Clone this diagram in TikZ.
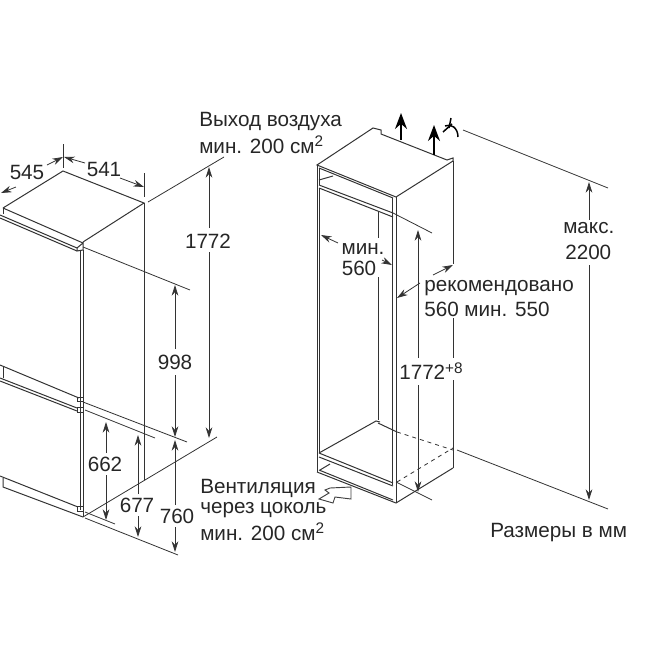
\documentclass[tikz,border=0pt]{standalone}
\usepackage{fontspec}
\setmainfont{Liberation Sans}
\usepackage{tikz}
\usetikzlibrary{arrows.meta}

\newcommand{\upidx}[1]{\raisebox{0.6ex}{\fontsize{11.5}{11.5}\selectfont #1}}

\tikzset{
  outline/.style={draw=black!80,line width=0.75pt},
  thinline/.style={draw=black!80,line width=0.6pt},
  dimtip/.style={thinline,-{Stealth[length=8pt,width=5pt]}},
  lbl/.style={inner sep=0pt,font=\fontsize{15.5}{15.5}\selectfont,text=black!85},
  bigup/.style={draw=black,line width=1.3pt,-{Stealth[length=12pt,width=9pt]}}
}

\begin{document}
\begin{tikzpicture}[x=0.75pt,y=0.75pt,yscale=-1,xscale=1]
\useasboundingbox (0,0) rectangle (650,650);

%Left fridge: top panel
\draw[outline] (3,208) -- (63,171) -- (144,203) -- (83,242);
\draw[outline] (3,208) -- (3,214) ;
\draw[outline] (3,208) -- (83,243) ;
\draw[outline] (0,215) -- (77,248) ;
\draw[outline] (0,218) -- (77,251) ;
\draw[outline] (77,248) -- (83,243) -- (83,250) -- (77,251) -- cycle ;
%Left fridge: door gap
\draw[outline] (80,250) -- (80,510) ;
\draw[outline] (83,250) -- (83,517) ;
%Left fridge: middle
\draw[outline] (0,365) -- (79,398) ;
\draw[outline] (3,367) -- (3,378) ;
\draw[outline] (0,378) -- (77,408) ;
\draw[outline] (0,381) -- (77,411) ;
\draw[outline] (77,397) rectangle (83,401) ;
\draw[outline] (77,407) rectangle (83,412) ;
%Left fridge: bottom
\draw[outline] (0,476) -- (78,507) ;
\draw[outline] (3,478) -- (3,487) -- (83,517) ;
\draw[outline] (77,506) rectangle (83,511) ;

%Left fridge: extension lines
\draw[thinline] (144,173) -- (144,197) ;
\draw[thinline] (144,203) -- (144,480) ;
\draw[thinline] (63,144) -- (63,168) ;
\draw[thinline] (148,202) -- (224,157) ;
\draw[thinline] (83,247) -- (190,290) ;
\draw[thinline] (83,402) -- (187,442) ;
\draw[thinline] (85,410) -- (155,438) ;
\draw[thinline] (83,517) -- (217,437) ;
\draw[thinline] (85,512) -- (115,524) ;
\draw[thinline] (85,518) -- (178,555) ;

%Left fridge: dimensions
\draw[dimtip] (47,165) -- (63,157) ;
\draw[dimtip] (16,187) -- (1,193) ;
\draw[dimtip] (85,163) -- (64,157) ;
\draw[dimtip] (120,178) -- (144,187) ;
\draw[dimtip] (209,228) -- (209,167) ;
\draw[dimtip] (209,252) -- (209,438) ;
\draw[dimtip] (175,349) -- (175,285) ;
\draw[dimtip] (175,375) -- (175,437) ;
\draw[dimtip] (175,505) -- (175,440) ;
\draw[dimtip] (175,527) -- (175,552) ;
\draw[dimtip] (106,453) -- (106,422) ;
\draw[dimtip] (106,475) -- (106,520) ;
\draw[dimtip] (138,494) -- (138,435) ;
\draw[dimtip] (138,516) -- (138,537) ;

%Cabinet: top panel
\draw[outline] (317,165) -- (373,128) -- (381,130) -- (381,134) -- (447,160) -- (453,158) -- (453,161) -- (396,197) -- cycle ;
\draw[outline] (319,168) -- (393,198) ;
\draw[outline] (319,168) -- (319,185) ;
\draw[outline] (319,185) -- (393,213) ;
\draw[outline] (319,188) -- (393,217) ;
\draw[outline] (319,180) -- (333,176) ;
%Cabinet: verticals
\draw[outline] (317,165) -- (317,472) ;
\draw[outline] (319,188) -- (319,453) ;
\draw[outline] (392,198) -- (392,485) ;
\draw[outline] (396,197) -- (396,503) ;
\draw[thinline] (378,212) -- (378,238) ;
\draw[thinline] (378,277) -- (378,420) ;
\draw[outline] (453,161) -- (453,264) ;
\draw[outline] (453,318) -- (453,358) ;
\draw[outline] (453,380) -- (453,468) ;
%Cabinet: floor
\draw[outline] (319,453) -- (376,421) -- (380,422) ;
\draw[outline] (319,453) -- (393,483) ;
\draw[outline] (319,457) -- (393,486) ;
\draw[outline] (317,472) -- (396,503) -- (453,468) ;
\draw[outline] (319,470) -- (393,500) ;
\draw[outline] (320,470) -- (330,464) ;
\draw[outline] (378,423) -- (397,432) ;
\draw[thinline,dashed] (397,432) -- (453,450) ;
\draw[thinline,dashed] (397,482) -- (453,448) ;

%Cabinet: extension lines
\draw[thinline] (393,213) -- (432,233) ;
\draw[thinline] (396,482) -- (432,500) ;
\draw[thinline] (463,130) -- (608,188) ;
\draw[thinline] (457,450) -- (608,509) ;

%Cabinet: dimensions
\draw[dimtip] (338,243) -- (321,235) ;
\draw[dimtip] (382,260) -- (392,265) ;
\draw[dimtip] (420,283) -- (397,298) ;
\draw[dimtip] (433,275) -- (453,265) ;
\draw[dimtip] (418,358) -- (418,230) ;
\draw[dimtip] (418,385) -- (418,492) ;
\draw[dimtip] (589,220) -- (589,182) ;
\draw[dimtip] (589,265) -- (589,500) ;

%Air flow
\draw[bigup] (401,140) -- (401,113) ;
\draw[bigup] (434,155) -- (434,125) ;
\draw[draw=black,line width=1.1pt] (451,118) -- (449,128) ;
\draw[draw=black,line width=1.1pt] (443,132) -- (452,124) ;
\draw[draw=black,line width=1.1pt] (445,126) .. controls (451,123) and (458,128) .. (458,137) ;
\draw[draw=black!75,line width=0.7pt,fill=white] (325,490) -- (330,488) -- (351,487) -- (351,499) -- (335,497) -- (333,503) -- (319,499) -- (329,493) -- cycle ;

%Text Nodes
\node[lbl,anchor=west] (lAir) at (199,122) {Выход воздуха};
\node[lbl,anchor=west] (lAirMin) at (199,145) {мин. 200 см\upidx{2}};
\node[lbl] (l545) at (27,172) {545};
\node[lbl] (l541) at (104,169) {541};
\node[lbl] (l1772) at (208,241) {1772};
\node[lbl] (l998) at (175,362) {998};
\node[lbl] (l662) at (105,464) {662};
\node[lbl] (l677) at (137,505) {677};
\node[lbl] (l760) at (177,516) {760};
\node[lbl] (lMin) at (363,249) {мин.};
\node[lbl] (l560) at (359,268) {560};
\node[lbl,anchor=west] (lRec) at (424,288) {рекомендовано};
\node[lbl,anchor=west] (lRecVal) at (424,309) {560 мин. 550};
\node[lbl,anchor=west] (lSize) at (399,371) {1772\upidx{+8}};
\node[lbl,anchor=west] (lMax) at (563,228) {макс.};
\node[lbl,anchor=west] (l2200) at (565,252) {2200};
\node[lbl,anchor=west] (lVent) at (200,488) {Вентиляция};
\node[lbl,anchor=west] (lVentB) at (200,510) {через цоколь};
\node[lbl,anchor=west] (lVentC) at (200,532) {мин. 200 см\upidx{2}};
\node[lbl,anchor=west] (lUnits) at (490,533) {Размеры в мм};
\end{tikzpicture}
\end{document}
